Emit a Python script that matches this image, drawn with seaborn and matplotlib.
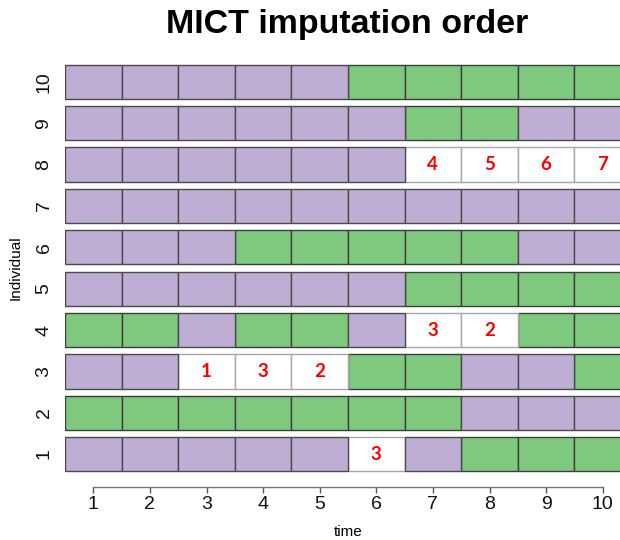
import matplotlib
matplotlib.use("Agg")
import matplotlib.pyplot as plt
import seaborn as sns
import pandas as pd

times = list(range(1, 11))
individuals = list(range(1, 11))

# P = purple state, G = green state, M = missing (imputed)
seq_1 = ["P", "P", "P", "P", "P", "M", "P", "G", "G", "G"]
seq_2 = ["G", "G", "G", "G", "G", "G", "G", "P", "P", "P"]
seq_3 = ["P", "P", "M", "M", "M", "G", "G", "P", "P", "G"]
seq_4 = ["G", "G", "P", "G", "G", "P", "M", "M", "G", "G"]
seq_5 = ["P", "P", "P", "P", "P", "P", "G", "G", "G", "G"]
seq_6 = ["P", "P", "P", "G", "G", "G", "G", "G", "P", "P"]
seq_7 = ["P", "P", "P", "P", "P", "P", "P", "P", "P", "P"]
seq_8 = ["P", "P", "P", "P", "P", "P", "M", "M", "M", "M"]
seq_9 = ["P", "P", "P", "P", "P", "P", "G", "G", "P", "P"]
seq_10 = ["P", "P", "P", "P", "P", "G", "G", "G", "G", "G"]

# imputation order (0 = observed)
order_1 = [0, 0, 0, 0, 0, 3, 0, 0, 0, 0]
order_2 = [0, 0, 0, 0, 0, 0, 0, 0, 0, 0]
order_3 = [0, 0, 1, 3, 2, 0, 0, 0, 0, 0]
order_4 = [0, 0, 0, 0, 0, 0, 3, 2, 0, 0]
order_5 = [0, 0, 0, 0, 0, 0, 0, 0, 0, 0]
order_6 = [0, 0, 0, 0, 0, 0, 0, 0, 0, 0]
order_7 = [0, 0, 0, 0, 0, 0, 0, 0, 0, 0]
order_8 = [0, 0, 0, 0, 0, 0, 4, 5, 6, 7]
order_9 = [0, 0, 0, 0, 0, 0, 0, 0, 0, 0]
order_10 = [0, 0, 0, 0, 0, 0, 0, 0, 0, 0]

seqs = [seq_1, seq_2, seq_3, seq_4, seq_5, seq_6, seq_7, seq_8, seq_9, seq_10]
orders = [order_1, order_2, order_3, order_4, order_5, order_6, order_7,
          order_8, order_9, order_10]

rows = []
for ind, s, o in zip(individuals, seqs, orders):
    for t, st, od in zip(times, s, o):
        rows.append({"individual": ind, "time": t, "state": st, "order": od})
df = pd.DataFrame(rows)

sns.set_style("white")
plt.rcParams["font.family"] = ["Liberation Sans", "DejaVu Sans"]
plt.rcParams["text.color"] = "black"
plt.rcParams["axes.labelcolor"] = "black"

fig = plt.figure(figsize=(6.2, 5.4), dpi=100)
W, H = 620, 540
left_px, right_px = 65, 631
top_px, bot_px = 61.3, 474.7
ax = fig.add_axes([left_px / W, 1 - bot_px / H, (right_px - left_px) / W, (bot_px - top_px) / H])

colors = {"P": "#BEAED4", "G": "#7FC97F", "M": "#FFFFFF"}
edges = {"P": "#4a4a4a", "G": "#3d3d3d", "M": "#a8a8a8"}
for st, g in df.groupby("state"):
    ax.barh(g["individual"], 1.0, left=g["time"] - 0.5, height=0.83,
            color=colors[st], edgecolor=edges[st], linewidth=1.0, zorder=2)

for _, r in df[df["order"] > 0].iterrows():
    ax.text(r["time"], r["individual"], str(int(r["order"])), color="#FF0000",
            fontsize=13.5, fontweight="bold", family=["Lato", "DejaVu Sans"],
            ha="center", va="center", zorder=3)

for sp in ["top", "right", "left"]:
    ax.spines[sp].set_visible(False)
ax.spines["bottom"].set_position(("outward", 8.6))
ax.spines["bottom"].set_bounds(1, 10)
ax.spines["bottom"].set_color("#777777")
ax.spines["bottom"].set_linewidth(1.0)

ax.set_xlim(0.5, 10.5)
ax.set_ylim(0.5, 10.5)
ax.set_xticks(times)
ax.set_xticklabels([str(t) for t in times])
ax.set_yticks(individuals)
ax.set_yticklabels([str(i) for i in individuals], rotation=90, va="center")
ax.tick_params(axis="x", length=4.5, width=1.0, color="#555555", pad=2,
               bottom=True, labelsize=14, labelcolor="#111111")
ax.tick_params(axis="y", length=0, pad=9, labelsize=14, labelcolor="#111111")

ax.set_xlabel("time", fontsize=11, labelpad=9)
ax.set_ylabel("Individual", fontsize=11, labelpad=9)

fig.text(347 / W, 1 - 24 / H, "MICT imputation order", fontsize=24.5,
         fontweight="bold", ha="center", va="center", color="black")

fig.savefig("out.png", dpi=100)
